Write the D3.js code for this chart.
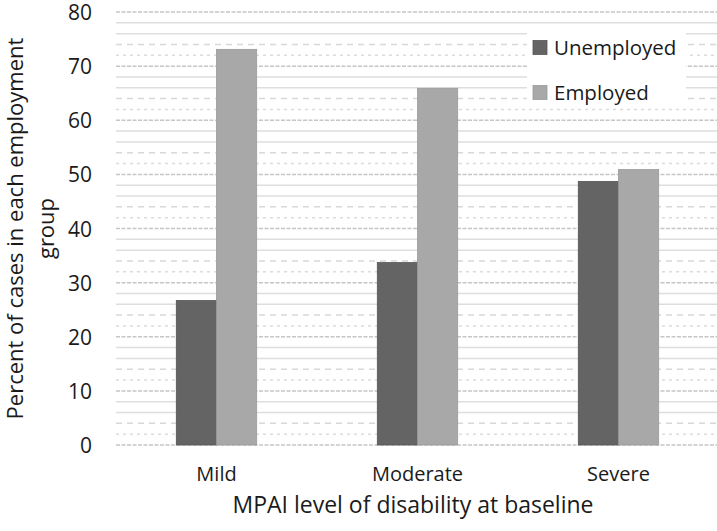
<!DOCTYPE html>
<html>
<head>
<meta charset="utf-8">
<script src="https://cdn.jsdelivr.net/npm/d3@7/dist/d3.min.js"></script>
<style>
  html, body { margin: 0; padding: 0; background: #fff; }
  svg { display: block; }
  text { font-family: "Open Sans", Lato, sans-serif; fill: #1a1a1a; }
</style>
</head>
<body>
<svg id="chart" width="717" height="531"></svg>
<script>
const categories = ["Mild", "Moderate", "Severe"];
const series = ["Unemployed", "Employed"];
const unemployed = [26.7, 33.7, 48.7];
const employed = [73.1, 65.9, 50.9];
const yTicks = [0, 10, 20, 30, 40, 50, 60, 70, 80];
const yTitleLines = ["Percent of cases in each employment", "group"];
const xTitle = "MPAI level of disability at baseline";

const colors = { Unemployed: "#646464", Employed: "#a8a8a8" };
const strokes = { Unemployed: "#555555", Employed: "#9a9a9a" };
const FONT = "'Open Sans', Lato, sans-serif";

const svg = d3.select("#chart");
const plot = { left: 116, right: 719, top: 12, bottom: 445 };

const y = d3.scaleLinear().domain([0, 80]).range([plot.bottom, plot.top]);
const x0 = d3.scaleBand().domain(categories).range([plot.left, plot.right])
  .paddingInner(0.6).paddingOuter(0.3);
const x1 = d3.scaleBand().domain(series).range([0, x0.bandwidth()]);

// gridlines every 2 units
const gridVals = d3.range(0, 81, 2);
const grid = svg.append("g");
gridVals.forEach(v => {
  const major = v % 10 === 0;
  const line = grid.append("line")
    .attr("x1", plot.left).attr("x2", 717)
    .attr("y1", y(v)).attr("y2", y(v))
    .attr("stroke-width", 1.5);
  if (major) {
    line.attr("stroke", "#c6c6c6").attr("stroke-dasharray", "4,1.5");
  } else if (v % 10 === 4) {
    line.attr("stroke", "#d8d8d8").attr("stroke-dasharray", "6,5");
  } else if (v % 10 === 2) {
    line.attr("stroke", "#dcdcdc").attr("stroke-dasharray", "3,4");
  } else {
    line.attr("stroke", "#dedede");
  }
});

// bars
const data = categories.map((c, i) => ({ cat: c, vals: [
  { s: "Unemployed", v: unemployed[i] },
  { s: "Employed", v: employed[i] }
]}));

const groups = svg.append("g").selectAll("g").data(data).join("g")
  .attr("transform", d => `translate(${x0(d.cat)},0)`);
groups.selectAll("rect").data(d => d.vals).join("rect")
  .attr("x", d => x1(d.s))
  .attr("y", d => y(d.v))
  .attr("width", x1.bandwidth())
  .attr("height", d => y(0) - y(d.v))
  .attr("fill", d => colors[d.s])
  .attr("stroke", d => strokes[d.s])
  .attr("stroke-width", 0.8);

// y axis
const yAxis = svg.append("g")
  .attr("transform", `translate(${plot.left},0)`)
  .call(d3.axisLeft(y).tickValues(yTicks).tickSize(0).tickPadding(24));
yAxis.select(".domain").remove();
yAxis.selectAll("text")
  .attr("dy", "0.36em")
  .style("font-family", FONT)
  .style("font-size", "21px")
  .style("fill", "#1a1a1a");

// x axis
const xAxis = svg.append("g")
  .attr("transform", `translate(0,${plot.bottom})`)
  .call(d3.axisBottom(x0).tickSize(0).tickPadding(0));
xAxis.select(".domain").remove();
xAxis.selectAll("text")
  .attr("y", 36).attr("dy", 0)
  .style("font-family", FONT)
  .style("font-size", "20px")
  .style("fill", "#1a1a1a");

// axis titles
svg.append("text")
  .attr("x", 413).attr("y", 513)
  .attr("text-anchor", "middle")
  .style("font-size", "23px")
  .text(xTitle);

const yt = svg.append("text")
  .attr("transform", `translate(0,${(plot.top + plot.bottom) / 2}) rotate(-90)`)
  .attr("text-anchor", "middle")
  .style("font-size", "22px");
yTitleLines.forEach((t, i) => {
  yt.append("tspan").attr("x", 0).attr("y", 23 + i * 31).text(t);
});

// legend
const legend = svg.append("g");
legend.append("rect")
  .attr("x", 527).attr("y", 25).attr("width", 159).attr("height", 83)
  .attr("fill", "#fff");
const legendRows = [ { s: "Unemployed", ty: 55 }, { s: "Employed", ty: 100 } ];
legendRows.forEach(r => {
  legend.append("rect")
    .attr("x", 533).attr("y", r.ty - 14.5).attr("width", 14).attr("height", 14)
    .attr("fill", colors[r.s]).attr("stroke", strokes[r.s]).attr("stroke-width", 0.8);
  legend.append("text")
    .attr("x", 554).attr("y", r.ty)
    .style("font-size", "20.5px")
    .text(r.s);
});
</script>
</body>
</html>
